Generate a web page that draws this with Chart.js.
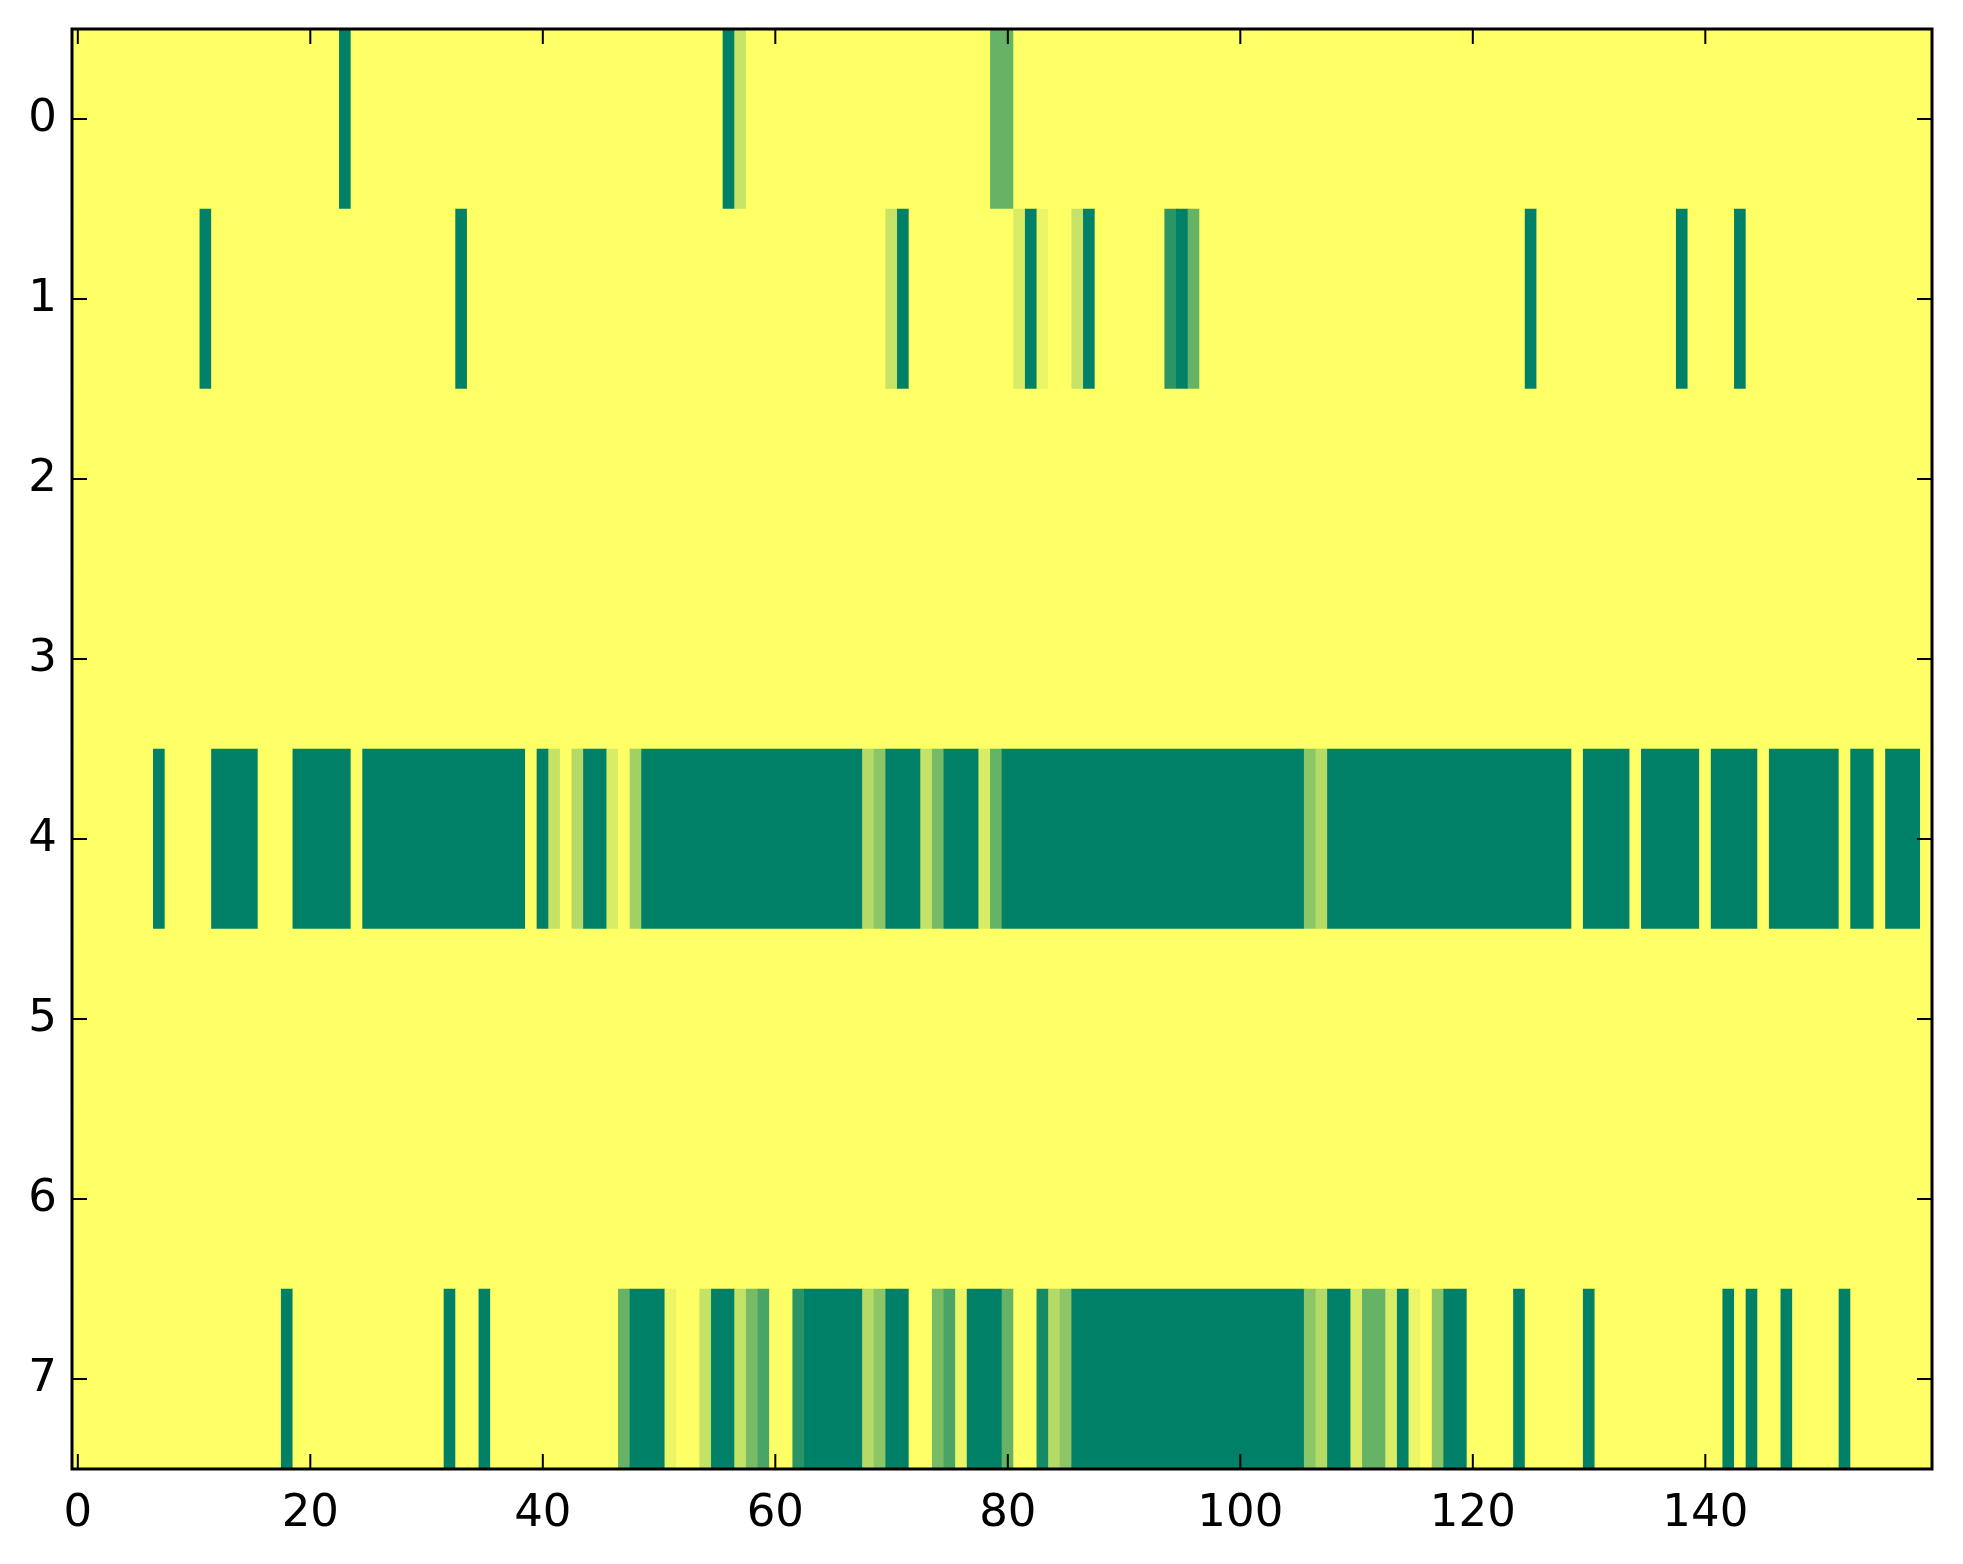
<!DOCTYPE html>
<html>
<head>
<meta charset="utf-8">
<title>heatmap</title>
<script src="https://cdn.jsdelivr.net/npm/chart.js@4.4.0/dist/chart.umd.min.js"></script>
<style>
    html, body { margin: 0; padding: 0; background: #fff; }
    #wrapper { width: 1963px; height: 1564px; }
</style>
</head>
<body>
<div id="wrapper"><canvas id="Scheme"></canvas></div>
<script>
// row labels (top to bottom) and x tick labels
const rowLabels = ['0', '1', '2', '3', '4', '5', '6', '7'];
const xTicks = [0, 20, 40, 60, 80, 100, 120, 140];

// one array per row, 160 columns each (0 = yellow, 1 = dark green)
const row0 = [
    0,0,0,0,0,0,0,0,0,0,0,0,0,0,0,0,0,0,0,0,
    0,0,0,1,0,0,0,0,0,0,0,0,0,0,0,0,0,0,0,0,
    0,0,0,0,0,0,0,0,0,0,0,0,0,0,0,0,1,.22,0,0,
    0,0,0,0,0,0,0,0,0,0,0,0,0,0,0,0,0,0,0,.6,
    .6,0,0,0,0,0,0,0,0,0,0,0,0,0,0,0,0,0,0,0,
    0,0,0,0,0,0,0,0,0,0,0,0,0,0,0,0,0,0,0,0,
    0,0,0,0,0,0,0,0,0,0,0,0,0,0,0,0,0,0,0,0,
    0,0,0,0,0,0,0,0,0,0,0,0,0,0,0,0,0,0,0,0
];
const row1 = [
    0,0,0,0,0,0,0,0,0,0,0,1,0,0,0,0,0,0,0,0,
    0,0,0,0,0,0,0,0,0,0,0,0,0,1,0,0,0,0,0,0,
    0,0,0,0,0,0,0,0,0,0,0,0,0,0,0,0,0,0,0,0,
    0,0,0,0,0,0,0,0,0,0,.22,1,0,0,0,0,0,0,0,0,
    0,.15,1,.08,0,0,.22,1,0,0,0,0,0,0,.83,1,.6,0,0,0,
    0,0,0,0,0,0,0,0,0,0,0,0,0,0,0,0,0,0,0,0,
    0,0,0,0,0,1,0,0,0,0,0,0,0,0,0,0,0,0,1,0,
    0,0,0,1,0,0,0,0,0,0,0,0,0,0,0,0,0,0,0,0
];
const row2 = [
    0,0,0,0,0,0,0,0,0,0,0,0,0,0,0,0,0,0,0,0,
    0,0,0,0,0,0,0,0,0,0,0,0,0,0,0,0,0,0,0,0,
    0,0,0,0,0,0,0,0,0,0,0,0,0,0,0,0,0,0,0,0,
    0,0,0,0,0,0,0,0,0,0,0,0,0,0,0,0,0,0,0,0,
    0,0,0,0,0,0,0,0,0,0,0,0,0,0,0,0,0,0,0,0,
    0,0,0,0,0,0,0,0,0,0,0,0,0,0,0,0,0,0,0,0,
    0,0,0,0,0,0,0,0,0,0,0,0,0,0,0,0,0,0,0,0,
    0,0,0,0,0,0,0,0,0,0,0,0,0,0,0,0,0,0,0,0
];
const row3 = [
    0,0,0,0,0,0,0,0,0,0,0,0,0,0,0,0,0,0,0,0,
    0,0,0,0,0,0,0,0,0,0,0,0,0,0,0,0,0,0,0,0,
    0,0,0,0,0,0,0,0,0,0,0,0,0,0,0,0,0,0,0,0,
    0,0,0,0,0,0,0,0,0,0,0,0,0,0,0,0,0,0,0,0,
    0,0,0,0,0,0,0,0,0,0,0,0,0,0,0,0,0,0,0,0,
    0,0,0,0,0,0,0,0,0,0,0,0,0,0,0,0,0,0,0,0,
    0,0,0,0,0,0,0,0,0,0,0,0,0,0,0,0,0,0,0,0,
    0,0,0,0,0,0,0,0,0,0,0,0,0,0,0,0,0,0,0,0
];
const row4 = [
    0,0,0,0,0,0,0,1,0,0,0,0,1,1,1,1,0,0,0,1,
    1,1,1,1,0,1,1,1,1,1,1,1,1,1,1,1,1,1,1,0,
    1,.22,0,.29,1,1,.15,0,.37,1,1,1,1,1,1,1,1,1,1,1,
    1,1,1,1,1,1,1,1,.29,.45,1,1,1,.23,.53,1,1,1,.15,.6,
    1,1,1,1,1,1,1,1,1,1,1,1,1,1,1,1,1,1,1,1,
    1,1,1,1,1,1,.45,.29,1,1,1,1,1,1,1,1,1,1,1,1,
    1,1,1,1,1,1,1,1,1,0,1,1,1,1,0,1,1,1,1,1,
    0,1,1,1,1,0,1,1,1,1,1,1,0,1,1,0,1,1,1,0
];
const row5 = [
    0,0,0,0,0,0,0,0,0,0,0,0,0,0,0,0,0,0,0,0,
    0,0,0,0,0,0,0,0,0,0,0,0,0,0,0,0,0,0,0,0,
    0,0,0,0,0,0,0,0,0,0,0,0,0,0,0,0,0,0,0,0,
    0,0,0,0,0,0,0,0,0,0,0,0,0,0,0,0,0,0,0,0,
    0,0,0,0,0,0,0,0,0,0,0,0,0,0,0,0,0,0,0,0,
    0,0,0,0,0,0,0,0,0,0,0,0,0,0,0,0,0,0,0,0,
    0,0,0,0,0,0,0,0,0,0,0,0,0,0,0,0,0,0,0,0,
    0,0,0,0,0,0,0,0,0,0,0,0,0,0,0,0,0,0,0,0
];
const row6 = [
    0,0,0,0,0,0,0,0,0,0,0,0,0,0,0,0,0,0,0,0,
    0,0,0,0,0,0,0,0,0,0,0,0,0,0,0,0,0,0,0,0,
    0,0,0,0,0,0,0,0,0,0,0,0,0,0,0,0,0,0,0,0,
    0,0,0,0,0,0,0,0,0,0,0,0,0,0,0,0,0,0,0,0,
    0,0,0,0,0,0,0,0,0,0,0,0,0,0,0,0,0,0,0,0,
    0,0,0,0,0,0,0,0,0,0,0,0,0,0,0,0,0,0,0,0,
    0,0,0,0,0,0,0,0,0,0,0,0,0,0,0,0,0,0,0,0,
    0,0,0,0,0,0,0,0,0,0,0,0,0,0,0,0,0,0,0,0
];
const row7 = [
    0,0,0,0,0,0,0,0,0,0,0,0,0,0,0,0,0,0,1,0,
    0,0,0,0,0,0,0,0,0,0,0,0,1,0,0,1,0,0,0,0,
    0,0,0,0,0,0,0,.6,1,1,1,.08,0,0,.23,1,1,.23,.53,.71,
    0,0,.84,1,1,1,1,1,.29,.45,1,1,0,0,.53,.71,.08,1,1,1,
    .6,0,0,.92,.29,.45,1,1,1,1,1,1,1,1,1,1,1,1,1,1,
    1,1,1,1,1,1,.45,.29,1,1,.15,.6,.6,.15,1,.08,0,.45,1,1,
    0,0,0,0,1,0,0,0,0,0,1,0,0,0,0,0,0,0,0,0,
    0,0,1,0,1,0,0,1,0,0,0,0,1,0,0,0,0,0,0,0
];
const rows = [row0, row1, row2, row3, row4, row5, row6, row7];

// matplotlib "summer_r"
function summerR(v) {
    return 'rgb(' + Math.round(255 * (1 - v)) + ',' + Math.round(255 * (1 - 0.5 * v)) + ',102)';
}

// equal neighbouring cells are joined into one floating bar, so no seams
let cells = [],
    cellColors = [];
rows.forEach(function (row, r) {
    let start = 0;
    for (let i = 1; i <= row.length; i++) {
        if (i === row.length || row[i] !== row[start]) {
            cells.push({ x: [start - 0.5, i - 0.5], y: rowLabels[r] });
            cellColors.push(summerR(row[start]));
            start = i;
        }
    }
});

// frame and inward ticks on all four sides
const frame = {
    id: 'frame',
    afterDraw(chart) {
        const ctx = chart.ctx,
            a = chart.chartArea,
            x = chart.scales.x,
            y = chart.scales.y,
            len = 15;
        ctx.save();
        ctx.strokeStyle = '#000';
        ctx.lineWidth = 2;
        ctx.beginPath();
        xTicks.forEach(function (v) {
            const px = x.getPixelForValue(v);
            ctx.moveTo(px, a.bottom); ctx.lineTo(px, a.bottom - len);
            ctx.moveTo(px, a.top); ctx.lineTo(px, a.top + len);
        });
        rowLabels.forEach(function (lab, i) {
            const py = y.getPixelForTick(i);
            ctx.moveTo(a.left, py); ctx.lineTo(a.left + len, py);
            ctx.moveTo(a.right, py); ctx.lineTo(a.right - len, py);
        });
        ctx.stroke();
        ctx.lineWidth = 3;
        ctx.strokeRect(a.left, a.top, a.right - a.left, a.bottom - a.top);
        ctx.restore();
    }
};

const tickFont = { family: 'DejaVu Sans', size: 45 };

const ctx = document.getElementById('Scheme').getContext('2d');
const heat = new Chart(ctx, {
    type: 'bar',
    data: {
        labels: rowLabels,
        datasets: [{
            data: cells,
            backgroundColor: cellColors,
            borderWidth: 0,
            barPercentage: 1,
            categoryPercentage: 1
        }]
    },
    options: {
        indexAxis: 'y',
        responsive: true,
        maintainAspectRatio: false,
        animation: false,
        layout: { padding: { top: 29, right: 31, left: 0, bottom: 0 } },
        plugins: {
            legend: { display: false },
            tooltip: { enabled: false }
        },
        scales: {
            x: {
                type: 'linear',
                min: -0.5,
                max: 159.5,
                grid: { display: false, drawTicks: false },
                border: { display: false },
                afterBuildTicks: function (s) {
                    s.ticks = xTicks.map(function (v) { return { value: v }; });
                },
                afterFit: function (s) {
                    s.height = 95;
                    s.paddingLeft = 0;
                    s.paddingRight = 0;
                },
                ticks: { color: '#000', font: tickFont, padding: 18, maxRotation: 0, autoSkip: false }
            },
            y: {
                type: 'category',
                offset: true,
                grid: { display: false, drawTicks: false },
                border: { display: false },
                afterFit: function (s) {
                    s.width = 72;
                    s.paddingTop = 0;
                    s.paddingBottom = 0;
                },
                ticks: { color: '#000', font: tickFont, padding: 15 }
            }
        }
    },
    plugins: [frame]
});
</script>
</body>
</html>
